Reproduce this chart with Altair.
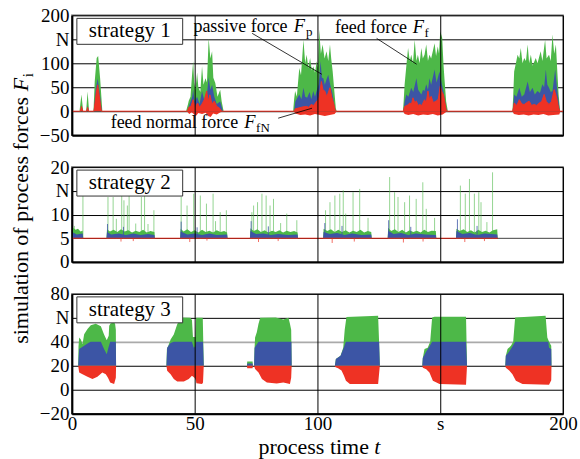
import altair as alt
import pandas as pd

GREEN = "#4db848"
BLUE = "#3c55a5"
RED = "#ee3224"
SERIF = "Liberation Serif"

T_DOMAIN = [0, 200]
X_TICKS = [0, 50, 100, 150, 200]

# ---------------- strategy 1 (force envelopes, N) ----------------
S1_GREEN = [
    (0, 0), (3.1, 0), (3.9, 35), (4.6, 0), (5.8, 0), (6.4, 41), (7.0, 0), (8.8, 0), (9.3, 62), (10.1, 111),
    (10.7, 115), (11.5, 69), (12.4, 0),
    (46.5, 0), (47.3, 15), (47.6, 22), (48.3, 30), (49.0, 80), (49.4, 104), (49.8, 60), (50.3, 45), (51.0, 80),
    (51.5, 50), (52.3, 40), (53.0, 94), (53.6, 55), (54.4, 69), (55.0, 60), (55.7, 152), (56.4, 110), (57.1, 125),
    (57.6, 70), (58.4, 59), (59.3, 30), (60.4, 45), (61.0, 20), (61.8, 0),
    (90.1, 0), (90.5, 25), (90.9, 42), (91.6, 30), (92.6, 90), (93.3, 75), (94.3, 149), (95.0, 100), (95.6, 118),
    (96.3, 90), (97.0, 111), (97.7, 85), (98.3, 94), (99.0, 80), (99.7, 104), (100.2, 90), (100.7, 170),
    (101.4, 120), (102.1, 139), (102.9, 110), (103.7, 125), (104.4, 105), (105.1, 139), (105.6, 110), (106.2, 83),
    (106.9, 40), (107.5, 5), (107.9, 0),
    (134.8, 0), (135.1, 20), (135.5, 56), (136.2, 95), (136.9, 132), (137.6, 105), (138.2, 118), (138.9, 100),
    (139.6, 149), (140.3, 105), (140.9, 118), (141.6, 100), (142.3, 132), (142.9, 110), (143.6, 118), (144.3, 139),
    (145.0, 105), (145.6, 118), (146.3, 110), (147.7, 142), (148.3, 115), (149.0, 135), (149.5, 120), (150.0, 167),
    (150.8, 153), (151.3, 100), (151.7, 69), (152.4, 20), (153.1, 0),
    (179.4, 0), (179.7, 30), (180.1, 83), (180.8, 100), (181.5, 118), (182.2, 110), (182.8, 132), (183.5, 100),
    (184.2, 111), (184.9, 105), (185.6, 139), (186.2, 100), (186.9, 118), (187.6, 95), (188.9, 111), (189.6, 100),
    (190.9, 125), (191.6, 105), (192.7, 149), (193.3, 110), (194.3, 118), (195.0, 105), (195.7, 160), (196.4, 120),
    (197.1, 139), (197.7, 80), (198.2, 35), (198.8, 0), (200, 0),
]
S1_BLUE = [
    (0, 0), (3.5, 0), (3.9, 12), (4.5, 0), (6.0, 0), (6.4, 12), (6.9, 0), (8.9, 0), (9.8, 50), (10.5, 68),
    (11.3, 40), (12.2, 0),
    (47.0, 0), (47.6, 10), (49.0, 30), (49.4, 45), (50.0, 20), (51.0, 30), (52.0, 15), (53.0, 42), (54.0, 20),
    (55.0, 35), (55.7, 71), (56.4, 45), (57.1, 55), (58.0, 30), (59.0, 15), (60.4, 20), (61.5, 0),
    (90.5, 0), (91.0, 20), (92.6, 35), (93.5, 25), (94.3, 49), (95.0, 30), (95.8, 28), (96.8, 40), (97.5, 25),
    (98.3, 42), (99.0, 30), (99.8, 45), (100.5, 56), (101.3, 104), (101.8, 70), (102.4, 69), (103.0, 55),
    (103.6, 65), (104.4, 76), (105.2, 55), (106.0, 40), (106.4, 28), (107.0, 10), (107.5, 0),
    (135.0, 0), (135.5, 20), (136.2, 35), (137.0, 30), (138.2, 49), (139.0, 40), (140.3, 69), (141.0, 45),
    (142.3, 35), (143.0, 45), (143.6, 42), (144.3, 56), (145.0, 45), (145.6, 69), (146.3, 55), (147.7, 87),
    (148.5, 60), (149.7, 83), (150.5, 60), (151.3, 42), (152.0, 20), (152.4, 7), (152.8, 0),
    (179.5, 0), (179.9, 20), (180.1, 35), (181.0, 30), (182.2, 49), (183.2, 30), (184.2, 35), (185.6, 62),
    (186.5, 40), (187.6, 49), (188.5, 35), (189.6, 42), (190.6, 38), (191.6, 56), (192.3, 50), (193.0, 87),
    (193.6, 55), (194.3, 49), (195.0, 40), (195.7, 42), (196.8, 87), (197.5, 50), (198.2, 21), (198.7, 0), (200, 0),
]
S1_RED = [
    (0, 0), (3.5, 0), (3.9, 10), (4.4, 0), (6.0, 0), (6.4, 8), (6.8, 0), (9.0, 0), (10.0, 40), (10.5, 55),
    (11.2, 30), (12.0, 0),
    (47.0, 0), (47.6, 8), (48.5, 10), (49.4, 24), (50.2, 8), (51.2, 17), (52.0, 8), (53.0, 15), (54.0, 25),
    (54.9, 42), (55.5, 20), (56.2, 34), (57.0, 15), (58.0, 21), (59.0, 10), (60.0, 7), (61.0, 0),
    (90.5, 0), (91.0, 5), (92.6, 7), (94.0, 9), (95.6, 10), (96.5, 8), (97.4, 14), (98.5, 12), (99.7, 21),
    (100.5, 25), (101.0, 40), (101.6, 62), (102.2, 45), (103.0, 42), (103.8, 30), (104.5, 40), (105.1, 49),
    (105.8, 30), (106.7, 14), (107.3, 0),
    (135.0, 0), (135.5, 10), (136.5, 12), (137.6, 17), (138.3, 15), (138.9, 28), (139.6, 18), (140.3, 21),
    (141.0, 12), (141.6, 14), (142.5, 12), (143.6, 24), (144.3, 18), (145.0, 42), (145.6, 25), (146.3, 31),
    (147.2, 18), (148.3, 21), (149.2, 25), (150.0, 52), (150.7, 40), (151.3, 35), (152.0, 15), (152.4, 3), (152.8, 0),
    (179.5, 0), (179.9, 10), (180.1, 17), (181.2, 12), (182.2, 24), (183.2, 15), (184.2, 14), (185.2, 18),
    (186.2, 21), (187.2, 12), (188.2, 14), (189.3, 12), (190.3, 17), (191.3, 20), (192.3, 35), (193.2, 20),
    (194.3, 14), (195.3, 20), (196.4, 45), (197.3, 30), (198.2, 7), (198.7, 0), (200, 0),
]
S1_RED_NEG = [
    (46.8, 0), (47.8, -6), (48.8, -2), (50.5, -10), (51.5, -4), (53.0, -6), (54.5, -3), (55.5, -10), (56.5, -12),
    (57.5, -5), (59.0, -7), (60.5, -2), (61.5, 0),
    (90.3, 0), (91.0, -5), (93.0, -8), (95.0, -7), (97.0, -9), (99.0, -6), (101.0, -8), (103.0, -10), (105.0, -8),
    (107.0, -6), (107.8, 0),
    (134.8, 0), (135.5, -6), (137.0, -8), (139.0, -6), (141.0, -9), (143.0, -7), (145.0, -8), (147.0, -6),
    (149.0, -9), (151.0, -7), (152.8, 0),
    (179.4, 0), (180.0, -6), (182.0, -8), (184.0, -7), (186.0, -9), (188.0, -7), (190.0, -8), (192.0, -6),
    (194.0, -9), (196.0, -8), (198.5, -7), (198.9, 0),
]

# ---------------- strategy 2 ----------------
S2_LEVEL = 5
S2_GREEN = [
    (0.3, 5), (0.5, 7.2), (1.5, 6.8), (2.5, 7.0), (3.5, 6.4), (4.4, 6.6), (4.6, 5),
    (14.1, 5), (14.3, 6.9), (15.5, 6.4), (17.0, 6.8), (18.5, 6.3), (20.0, 6.9), (21.5, 6.4), (23.0, 6.7),
    (24.5, 6.2), (26.0, 6.6), (27.5, 6.3), (29.0, 6.8), (30.5, 6.2), (32.0, 6.5), (33.6, 6.3), (33.8, 5),
    (44.1, 5), (44.3, 7.0), (45.5, 6.4), (47.0, 6.9), (48.5, 6.3), (50.0, 6.7), (51.5, 6.2), (53.0, 6.8),
    (54.5, 6.3), (56.0, 6.6), (57.5, 6.2), (59.0, 6.7), (60.5, 6.3), (62.0, 6.5), (63.2, 6.2), (63.4, 5),
    (72.5, 5), (72.7, 7.1), (74.0, 6.5), (75.5, 6.9), (77.0, 6.3), (78.5, 6.7), (80.0, 6.2), (81.5, 6.6),
    (83.0, 6.3), (84.5, 6.7), (86.0, 6.2), (87.5, 6.6), (89.0, 6.3), (90.5, 6.5), (91.9, 6.2), (92.1, 5),
    (102.3, 5), (102.5, 7.0), (104.0, 6.5), (105.5, 6.9), (107.0, 6.3), (108.5, 6.8), (110.0, 6.3), (111.5, 6.7),
    (113.0, 6.2), (114.5, 6.6), (116.0, 6.3), (117.5, 6.8), (119.0, 6.2), (120.5, 6.5), (121.9, 6.3), (122.1, 5),
    (128.6, 5), (128.8, 7.2), (130.0, 6.5), (131.5, 6.9), (133.0, 6.3), (134.5, 6.8), (136.0, 6.2), (137.5, 6.7),
    (139.0, 6.3), (140.5, 6.6), (142.0, 6.2), (143.5, 6.8), (145.0, 6.3), (146.5, 6.6), (148.2, 6.5), (148.4, 5),
    (156.4, 5), (156.6, 7.0), (158.0, 6.5), (159.5, 6.9), (161.0, 6.3), (162.5, 6.7), (164.0, 6.2), (165.5, 6.8),
    (167.0, 6.3), (168.5, 6.6), (170.0, 6.2), (171.5, 6.7), (173.2, 6.9), (173.4, 5),
]
S2_BLUE = [
    (0.3, 5), (0.5, 6.2), (2.0, 5.8), (4.4, 6.0), (4.6, 5),
    (14.1, 5), (14.3, 6.3), (16.0, 5.8), (19.0, 6.0), (22.0, 5.7), (25.0, 6.0), (28.0, 5.7), (31.0, 5.9), (33.6, 5.7), (33.8, 5),
    (44.1, 5), (44.3, 6.4), (47.0, 5.8), (50.0, 6.0), (53.0, 5.7), (56.0, 6.0), (59.0, 5.7), (63.2, 5.8), (63.4, 5),
    (72.5, 5), (72.7, 6.5), (75.0, 5.9), (78.0, 6.0), (81.0, 5.7), (84.0, 5.9), (88.0, 5.7), (91.9, 5.8), (92.1, 5),
    (102.3, 5), (102.5, 6.3), (105.0, 5.9), (108.0, 6.1), (111.0, 5.7), (114.0, 6.0), (118.0, 5.7), (121.9, 5.8), (122.1, 5),
    (128.6, 5), (128.8, 6.6), (131.0, 5.9), (134.0, 6.1), (137.0, 5.7), (140.0, 6.0), (144.0, 5.8), (148.2, 5.7), (148.4, 5),
    (156.4, 5), (156.6, 6.5), (159.0, 5.9), (162.0, 6.1), (165.0, 5.7), (168.0, 6.0), (173.2, 5.8), (173.4, 5),
]
S2_GREEN_SPIKES = [
    (1.0, 7.6), (4.5, 14.5),
    (14.7, 13.7), (16.8, 13.7), (18.1, 9.1), (20.3, 14.0), (21.2, 13.0), (22.6, 11.9), (23.3, 14.0), (26.0, 8.1),
    (28.3, 13.7), (29.6, 14.0), (31.0, 8.0), (33.4, 10.9),
    (44.5, 13.7), (46.9, 11.9), (49.6, 14.4), (52.3, 14.0), (54.8, 12.3), (57.5, 14.4), (58.5, 8.6), (60.4, 10.5), (62.9, 10.9),
    (73.3, 10.5), (74.0, 11.9), (75.6, 12.6), (77.4, 14.4), (79.1, 14.0), (80.7, 11.9), (82.1, 13.3), (85.0, 8.2), (87.5, 10.2), (91.6, 8.8),
    (103.3, 10.9), (105.1, 12.6), (107.1, 14.0), (109.1, 14.4), (110.5, 15.1), (111.5, 10.2), (114.5, 14.7), (117.2, 15.4), (120.6, 9.3),
    (129.4, 17.9), (131.4, 14.7), (132.8, 13.7), (135.5, 12.6), (137.5, 14.0), (140.2, 13.3), (142.9, 16.8), (144.3, 11.2), (147.7, 9.3),
    (158.2, 16.1), (160.2, 14.4), (161.9, 17.5), (163.9, 14.4), (165.7, 14.7), (166.6, 12.6), (169.0, 8.4), (171.3, 18.9),
]
S2_BLUE_SPIKES = [
    (14.5, 8.0), (21.0, 7.4), (44.5, 8.5), (51.0, 7.3), (73.0, 8.6), (80.0, 7.5), (103.0, 8.2), (110.0, 7.6),
    (129.0, 8.8), (138.0, 7.4), (157.0, 9.0), (165.0, 7.6),
]
S2_RED_DIPS = [
    (20.0, 4.3), (25.0, 4.4), (48.0, 4.2), (55.0, 4.5), (76.0, 4.2), (84.0, 4.4), (106.0, 4.0), (115.0, 4.3),
    (135.0, 4.1), (143.0, 4.3), (160.0, 4.2), (168.0, 4.4),
]
S2_RED_LINE = [(0, 5), (173.5, 5)]
S2_GRAY_LINE = [(173.5, 5), (200, 5)]

# ---------------- strategy 3 (bands around 20 N) ----------------
S3_BASE = 20
S3_GREEN = [
    (2.57, 20), (2.7, 36), (2.97, 43.6), (3.65, 42), (4.33, 38), (5.0, 46.4), (6.36, 50.6), (7.7, 53.9), (9.74, 55),
    (11.8, 53), (13.1, 46), (14.2, 41.4), (14.7, 43.6), (15.0, 45), (15.2, 53.3), (15.8, 55.5), (17.2, 56),
    (17.6, 55), (17.9, 50), (18.0, 20),
    (38.5, 20), (38.7, 34), (39.5, 38), (40.2, 42), (41.5, 46), (42.9, 54.7), (44.0, 59), (44.9, 60.3), (48.3, 60),
    (48.9, 58), (49.3, 44), (50.3, 44), (50.6, 60), (53.3, 60), (53.7, 20),
    (71.3, 20), (71.4, 23.5), (73.6, 23.5), (73.7, 20),
    (74.2, 20), (74.4, 35), (74.6, 43.6), (75.3, 48), (76.0, 55), (76.7, 60), (83.0, 60.3), (86.1, 58.6),
    (88.2, 60), (88.8, 55), (89.3, 50), (89.5, 20),
    (107.1, 20), (107.5, 25.6), (109.4, 28.3), (110.5, 35), (111.1, 50), (111.8, 60.8), (124.7, 61.7), (125.1, 40), (125.4, 20),
    (142.7, 20), (142.9, 26.4), (143.6, 33.9), (144.9, 35), (145.9, 40), (146.7, 60.3), (147.7, 61), (160.5, 61), (160.9, 20),
    (176.5, 20), (176.7, 28.3), (177.4, 33.9), (178.8, 36.7), (179.7, 40), (180.5, 60.3), (192.9, 61.7),
    (193.6, 43.6), (194.3, 40), (195.2, 36.7), (195.3, 20),
]
S3_BLUE = [
    (2.57, 20), (2.97, 33.9), (5.0, 36.7), (7.03, 39.4), (7.7, 40), (11.8, 40), (13.1, 33.9), (14.2, 29.7),
    (14.9, 35.3), (15.6, 40), (17.9, 40), (18.0, 20),
    (38.5, 20), (38.8, 35), (40.2, 39), (41.5, 40), (48.9, 40), (49.6, 35), (50.2, 36), (50.5, 40), (53.4, 40), (53.7, 20),
    (71.3, 20), (71.4, 21.8), (73.6, 21.8), (73.7, 20),
    (74.2, 20), (74.4, 35), (76.0, 40), (89.4, 40), (89.5, 20),
    (107.1, 20), (107.5, 25.6), (109.4, 28.3), (110.5, 33.9), (111.6, 40), (125.1, 40), (125.4, 20),
    (142.7, 20), (142.9, 26.4), (144.3, 32), (145.6, 36), (146.7, 40), (160.5, 40), (160.9, 20),
    (176.5, 20), (176.7, 28.3), (178.1, 32), (179.4, 36), (180.5, 40), (194.0, 40), (194.3, 35), (195.2, 34), (195.3, 20),
]
S3_RED = [
    (2.57, 20), (2.97, 14.4), (4.33, 13), (6.36, 10.8), (8.38, 8.9), (10.4, 10.8), (12.4, 14.4), (13.8, 13),
    (14.7, 10), (15.6, 6.1), (17.2, 4.7), (17.9, 10), (18.0, 20),
    (38.5, 20), (38.8, 15.8), (40.2, 13), (41.5, 8.9), (42.9, 6.9), (45.6, 6.9), (47.6, 8.9), (48.9, 11.6),
    (49.9, 10), (50.5, 8), (50.7, 5.5), (53.0, 4.7), (53.4, 6), (53.7, 20),
    (71.3, 20), (71.4, 18), (73.6, 18), (73.7, 20),
    (74.2, 20), (74.6, 17.2), (76.0, 14.4), (77.4, 8.9), (79.4, 6.1), (83.4, 5.3), (86.1, 6.1), (88.8, 4.7), (89.3, 10), (89.5, 20),
    (107.1, 20), (107.2, 19), (108.4, 18), (109.8, 16), (110.8, 11.6), (111.6, 7.5), (113.2, 4.7), (124.7, 4.7), (125.4, 20),
    (142.7, 20), (142.9, 18.3), (144.3, 17), (145.6, 14.4), (147.0, 7.5), (149.7, 4.7), (160.5, 4.2), (160.9, 20),
    (176.5, 20), (176.7, 18.3), (178.1, 16), (179.4, 13), (180.8, 7.5), (183.5, 4.7), (194.3, 4.2), (195.2, 8), (195.3, 20),
]


def frame(pairs, base):
    d = pd.DataFrame(pairs, columns=["t", "v"])
    d["b"] = base
    return d


def x_enc(show_labels, field="t"):
    return alt.X(
        f"{field}:Q",
        scale=alt.Scale(domain=T_DOMAIN, nice=False, zero=False),
        axis=alt.Axis(values=X_TICKS, labels=show_labels, title=None, labelFlush=False, zindex=1,
                      labelFont=SERIF, labelFontSize=19,
                      labelExpr="datum.value == 150 ? 's' : datum.label", labelPadding=1),
    )


def y_enc(domain, ticks, n_at, grid_color="black", grid_width=1, field="v"):
    return alt.Y(
        f"{field}:Q",
        scale=alt.Scale(domain=domain, nice=False, zero=False),
        axis=alt.Axis(values=ticks, title=None, zindex=0, gridColor=grid_color, gridWidth=grid_width,
                      labelFont=SERIF, labelFontSize=19,
                      labelExpr=f"datum.value == {n_at} ? 'N' : datum.label"),
    )


def band(pairs, base, color, X, Y, line=False, opacity=1.0):
    mk = dict(color=color, opacity=opacity, interpolate="linear")
    if line:
        mk["line"] = {"color": color, "strokeWidth": 1}
    return alt.Chart(frame(pairs, base)).mark_area(**mk).encode(x=X, y=Y, y2=alt.Y2("b:Q"))


def spikes(pairs, base, color, X, Y, opacity=1.0, width=1.0):
    return alt.Chart(frame(pairs, base)).mark_rule(color=color, opacity=opacity, strokeWidth=width).encode(
        x=X, y=Y, y2=alt.Y2("b:Q"))


def level(pairs, color, X, Y, width=1.0):
    return alt.Chart(frame(pairs, 0)).mark_line(color=color, strokeWidth=width).encode(x=X, y=Y)


def label_box(name):
    d = pd.DataFrame({"label": [name]})
    box = alt.Chart(d).mark_rect(fill="white", stroke="#333333", strokeWidth=1).encode(
        x=alt.value(5), x2=alt.value(111), y=alt.value(3), y2=alt.value(29))
    txt = alt.Chart(d).mark_text(font=SERIF, fontSize=21, color="black", align="center", baseline="alphabetic").encode(
        x=alt.value(58), y=alt.value(22), text="label:N")
    return [box, txt]


def texts(rows, X, Y, **kw):
    d = pd.DataFrame(rows, columns=["label", "t", "v"])
    return alt.Chart(d).mark_text(font=SERIF, color="black", align="left", baseline="alphabetic", **kw).encode(
        x=X, y=Y, text="label:N")


# ---- panel 1
X1 = x_enc(False)
Y1 = y_enc([-50, 200], [-50, 0, 50, 100, 150, 200], 150)
leaders = pd.DataFrame({
    "t": [73.4, 124.1, 84.0], "v": [162.5, 152.0, -14.6],
    "t2": [101.8, 140.4, 97.8], "v2": [77.0, 98.0, 6.25],
})
p1 = alt.layer(
    band(S1_GREEN, 0, GREEN, X1, Y1),
    band(S1_BLUE, 0, BLUE, X1, Y1),
    band(S1_RED, 0, RED, X1, Y1, line=True),
    band(S1_RED_NEG, 0, RED, X1, Y1),
    *label_box("strategy 1"),
    texts([("passive force", 49.5, 164.6), ("feed force", 107.1, 162.5), ("feed normal force", 15.8, -35.4)],
          X1, Y1, fontSize=18),
    texts([("F", 90.3, 164.6), ("F", 138.8, 162.5), ("F", 70.2, -35.4)], X1, Y1, fontSize=18.5, fontStyle="italic"),
    texts([("p", 95.3, 156.3), ("f", 143.6, 154.2), ("fN", 75.0, -43.75)], X1, Y1, fontSize=13),
    alt.Chart(leaders).mark_rule(color="black", strokeWidth=0.8).encode(
        x=X1, y=Y1, x2=alt.X2("t2:Q"), y2=alt.Y2("v2:Q")),
).properties(width=492, height=120)

# ---- panel 2
X2 = x_enc(False)
Y2 = y_enc([0, 20], [0, 5, 10, 15, 20], 15)
ytitle = pd.DataFrame({"label": ["simulation of process forces"]})
p2 = alt.layer(
    band(S2_GREEN, S2_LEVEL, GREEN, X2, Y2),
    spikes(S2_GREEN_SPIKES, S2_LEVEL, GREEN, X2, Y2, opacity=0.6),
    band(S2_BLUE, S2_LEVEL, BLUE, X2, Y2),
    spikes(S2_BLUE_SPIKES, S2_LEVEL, BLUE, X2, Y2, opacity=0.8),
    spikes(S2_RED_DIPS, S2_LEVEL, RED, X2, Y2, opacity=0.7),
    level(S2_RED_LINE, RED, X2, Y2),
    level(S2_GRAY_LINE, "#888888", X2, Y2),
    *label_box("strategy 2"),
    alt.Chart(ytitle).mark_text(font=SERIF, fontSize=22, color="black", angle=270, align="left",
                                baseline="alphabetic").encode(x=alt.value(-44), y=alt.value(177), text="label:N"),
    alt.Chart(pd.DataFrame({"label": ["F"]})).mark_text(
        font=SERIF, fontSize=22, fontStyle="italic", color="black", angle=270, align="left",
        baseline="alphabetic").encode(x=alt.value(-44), y=alt.value(-76), text="label:N"),
    alt.Chart(pd.DataFrame({"label": ["i"]})).mark_text(
        font=SERIF, fontSize=15, color="black", angle=270, align="left",
        baseline="alphabetic").encode(x=alt.value(-39), y=alt.value(-90), text="label:N"),
).properties(width=492, height=95)

# ---- panel 3
X3 = x_enc(True)
Y3 = y_enc([-20, 80], [-20, 0, 20, 40, 60, 80], 60,
           grid_color={"condition": {"test": "datum.value === 40", "value": "#aaaaaa"}, "value": "black"},
           grid_width={"condition": {"test": "datum.value === 40", "value": 1.8}, "value": 1})
p3 = alt.layer(
    band(S3_GREEN, S3_BASE, GREEN, X3, Y3),
    band(S3_BLUE, S3_BASE, BLUE, X3, Y3),
    band(S3_RED, S3_BASE, RED, X3, Y3),
    *label_box("strategy 3"),
    alt.Chart(pd.DataFrame({"label": ["process time"]})).mark_text(
        font=SERIF, fontSize=22, color="black", align="left", baseline="alphabetic").encode(
        x=alt.value(187), y=alt.value(160), text="label:N"),
    alt.Chart(pd.DataFrame({"label": ["t"]})).mark_text(
        font=SERIF, fontSize=22, fontStyle="italic", color="black", align="left", baseline="alphabetic").encode(
        x=alt.value(303), y=alt.value(160), text="label:N"),
).properties(width=492, height=120)

chart = (
    alt.vconcat(p1, p2, p3, spacing=32, bounds="flush")
    .properties(padding={"left": 9, "top": 5, "right": 2, "bottom": 1}, background="white")
    .configure(font=SERIF)
    .configure_text(font=SERIF)
    .configure_view(stroke="#666666", strokeWidth=1.5)
    .configure_axis(labelFont=SERIF, labelFontSize=19, labelColor="black", ticks=False,
                    domainColor="black", domainWidth=2, gridColor="black", gridWidth=1, labelPadding=3)
)

chart.save("out.html", embed_options={"renderer": "svg", "actions": False})
